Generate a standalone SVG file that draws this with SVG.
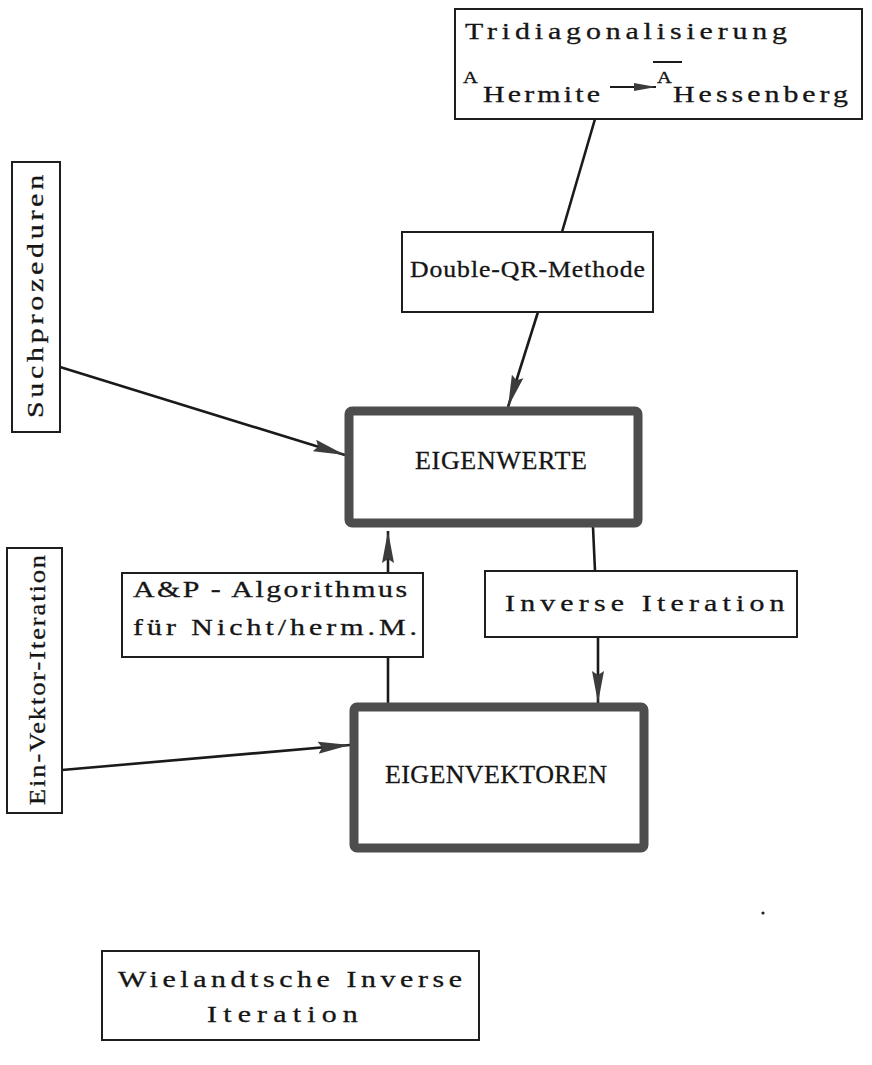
<svg xmlns="http://www.w3.org/2000/svg" width="872" height="1065" viewBox="0 0 872 1065">
<defs>
<style>
.bg{fill:#ffffff}
.box{fill:#ffffff;stroke:#1e1e1e;stroke-width:2}
.heavy{fill:#ffffff;stroke:#4d4d4d;stroke-width:9;stroke-linejoin:round}
.t{font-family:"Liberation Serif","DejaVu Serif",serif;font-size:23px;fill:#151515;stroke:#151515;stroke-width:0.3}
.big{font-family:"Liberation Serif","DejaVu Serif",serif;font-size:26px;fill:#151515;stroke:#151515;stroke-width:0.3}
.sm{font-family:"Liberation Serif","DejaVu Serif",serif;font-size:17px;fill:#151515;stroke:#151515;stroke-width:0.3}
.ln{fill:none;stroke:#1a1a1a;stroke-width:2.6}
</style>
<marker id="ah" viewBox="0 0 32 14" refX="32" refY="7" markerWidth="32" markerHeight="14" orient="auto" markerUnits="userSpaceOnUse">
<path d="M0,1 L32,7 L0,13 L4,7 z" fill="#3c3c3c"/>
</marker>
<marker id="ahs" viewBox="0 0 22 10" refX="22" refY="5" markerWidth="22" markerHeight="10" orient="auto" markerUnits="userSpaceOnUse">
<path d="M0,1 L22,5 L0,9 z" fill="#3c3c3c"/>
</marker>
</defs>
<rect class="bg" x="0" y="0" width="872" height="1065"/>

<g id="connectors">
<line class="ln" x1="595" y1="119" x2="562" y2="232"/>
<line class="ln" x1="538" y1="312" x2="508" y2="407" marker-end="url(#ah)"/>
<line class="ln" x1="60" y1="367" x2="345" y2="455" marker-end="url(#ah)"/>
<line class="ln" x1="388" y1="573" x2="388" y2="531" marker-end="url(#ah)"/>
<line class="ln" x1="388" y1="657" x2="388" y2="703"/>
<line class="ln" x1="593" y1="527" x2="595" y2="571"/>
<line class="ln" x1="598" y1="637" x2="598" y2="703" marker-end="url(#ah)"/>
<line class="ln" x1="62" y1="770" x2="350" y2="745" marker-end="url(#ah)"/>
</g>

<g id="tridiagonalisierung">
<rect class="box" x="455" y="9" width="407" height="110"/>
<text class="t" transform="translate(465,39) scale(1.3,1)" textLength="247.7" lengthAdjust="spacing">Tridiagonalisierung</text>
<text class="sm" transform="translate(463,83) scale(1.2,1)">A</text>
<text class="t" transform="translate(483,102) scale(1.3,1)" textLength="90" lengthAdjust="spacing">Hermite</text>
<line x1="610" y1="87" x2="656" y2="87" stroke="#1a1a1a" stroke-width="2" marker-end="url(#ahs)"/>
<text class="sm" transform="translate(657,83) scale(1.2,1)">A</text>
<line x1="653" y1="62" x2="682" y2="62" stroke="#1a1a1a" stroke-width="2"/>
<text class="t" transform="translate(673,102) scale(1.3,1)" textLength="134.6" lengthAdjust="spacing">Hessenberg</text>
</g>

<g id="double-qr">
<rect class="box" x="402" y="232" width="251" height="80"/>
<text class="t" transform="translate(410,277) scale(1.12,1)" textLength="209.8" lengthAdjust="spacing">Double-QR-Methode</text>
</g>

<g id="suchprozeduren">
<rect class="box" x="12" y="162" width="48" height="270"/>
<text class="t" transform="translate(43,418) rotate(-90) scale(1.3,1)" textLength="187" lengthAdjust="spacing">Suchprozeduren</text>
</g>

<g id="eigenwerte">
<rect class="heavy" x="349" y="411" width="289" height="112" rx="3"/>
<text class="big" x="415" y="469" textLength="172" lengthAdjust="spacing">EIGENWERTE</text>
</g>

<g id="ap-algorithmus">
<rect class="box" x="122" y="573" width="301" height="84"/>
<text class="t" transform="translate(133,597) scale(1.3,1)" textLength="210.8" lengthAdjust="spacing">A&amp;P - Algorithmus</text>
<text class="t" transform="translate(133,635) scale(1.3,1)" textLength="218.5" lengthAdjust="spacing">für Nicht/herm.M.</text>
</g>

<g id="inverse-iteration">
<rect class="box" x="485" y="571" width="312" height="66"/>
<text class="t" transform="translate(505,611) scale(1.3,1)" textLength="215" lengthAdjust="spacing">Inverse Iteration</text>
</g>

<g id="ein-vektor-iteration">
<rect class="box" x="7" y="548" width="55" height="265"/>
<text class="t" transform="translate(45,805) rotate(-90) scale(1.15,1)" textLength="217.4" lengthAdjust="spacing">Ein-Vektor-Iteration</text>
</g>

<g id="eigenvektoren">
<rect class="heavy" x="354" y="707" width="290" height="141" rx="3"/>
<text class="big" x="385" y="783" textLength="222" lengthAdjust="spacing">EIGENVEKTOREN</text>
</g>

<g id="wielandtsche">
<rect class="box" x="102" y="951" width="377" height="89"/>
<text class="t" transform="translate(118,987) scale(1.3,1)" textLength="264.6" lengthAdjust="spacing">Wielandtsche Inverse</text>
<text class="t" transform="translate(207,1022) scale(1.3,1)" textLength="116" lengthAdjust="spacing">Iteration</text>
</g>

<circle cx="763" cy="913" r="1.6" fill="#222"/>
</svg>
